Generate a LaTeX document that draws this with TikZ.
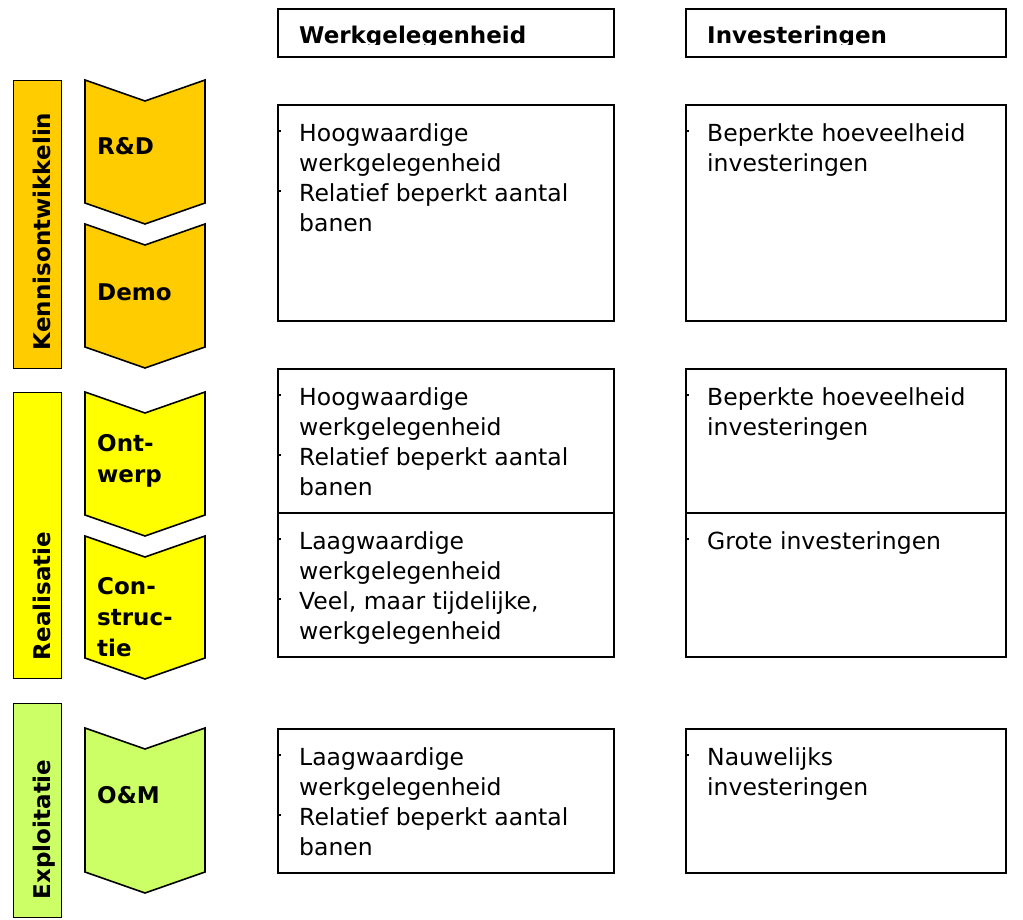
\documentclass[tikz,border=0pt]{standalone}
\usepackage{fontspec}
\setmainfont{DejaVu Sans}
\usetikzlibrary{positioning}
\definecolor{kennisgeel}{HTML}{FFCC00}
\definecolor{realgeel}{HTML}{FFFF00}
\definecolor{explgroen}{HTML}{CCFF66}
\tikzset{
  cel/.style={draw,line width=1.6pt,inner sep=0pt,anchor=north west},
  celtekst/.style={anchor=north west,inner sep=0pt,align=left,font=\fontsize{23.5}{30}\selectfont},
  kop/.style={anchor=base west,inner sep=0pt,font=\bfseries\fontsize{23}{30}\selectfont},
  fasebalk/.style={draw,line width=1.3pt,inner sep=0pt,anchor=north west,minimum width=48pt},
  fasetekst/.style={rotate=90,anchor=base west,inner sep=0pt,font=\bfseries\fontsize{23}{30}\selectfont},
  pijl/.style={draw,line width=1.6pt},
  pijltekst/.style={inner sep=0pt,align=left,font=\bfseries\fontsize{23}{31}\selectfont},
  bolletje/.style={line width=1.3pt},
}
\begin{document}
\begin{tikzpicture}[x=1pt,y=-1pt]
    \useasboundingbox (0,0) rectangle (1023,920);

    % kolomkoppen
    \node[cel,minimum width=336pt,minimum height=48pt] (kopwrk) at (277,8) {};
    \node[cel,minimum width=320pt,minimum height=48pt] (kopinv) at (685,8) {};
    \begin{scope}
        \clip (277,8) rectangle (1005,45);
        \node[kop] (kopwrktekst) at ([xshift=22pt,yshift=-36pt]kopwrk.north west) {Werkgelegenheid};
        \node[kop] (kopinvtekst) at ([xshift=22pt,yshift=-36pt]kopinv.north west) {Investeringen};
    \end{scope}

    % fasebalken
    \node[fasebalk,fill=kennisgeel,minimum height=288pt] (kennis) at (13,80) {};
    \node[fasebalk,fill=realgeel,minimum height=286pt] (realisatie) at (13,392) {};
    \node[fasebalk,fill=explgroen,minimum height=214pt] (exploitatie) at (13,703) {};
    \node[fasetekst] (kennistekst) at ([xshift=-12pt,yshift=19pt]kennis.south east) {Kennisontwikkelin};
    \node[fasetekst] (realisatietekst) at ([xshift=-12pt,yshift=19pt]realisatie.south east) {Realisatie};
    \node[fasetekst] (exploitatietekst) at ([xshift=-12pt,yshift=19pt]exploitatie.south east) {Exploitatie};

    % pijlen
    \foreach \boven/\lengte/\kleur in {80/123/kennisgeel,224/123/kennisgeel,392/123/realgeel,536/122/realgeel,728/144/explgroen}
        \draw[pijl,fill=\kleur] (85,\boven) -- (145,\boven+21) -- (205,\boven) -- (205,\boven+\lengte)
            -- (145,\boven+\lengte+21) -- (85,\boven+\lengte) -- cycle;
    \node[pijltekst,anchor=base west] (rd) at (97,155) {R\&D};
    \node[pijltekst,anchor=base west] (demo) at (97,300) {Demo};
    \node[pijltekst,anchor=north west] (ontwerp) at (97,434.5) {Ont-\\werp};
    \node[pijltekst,anchor=north west] (constructie) at (97,577.5) {Con-\\struc-\\tie};
    \node[pijltekst,anchor=base west] (om) at (97,803) {O\&M};

    % cellen werkgelegenheid
    \node[cel,minimum width=336pt,minimum height=216pt] (wrk1) at (277,104) {};
    \node[cel,minimum width=336pt,minimum height=144pt] (wrk2) at (277,368) {};
    \node[cel,minimum width=336pt,minimum height=144pt] (wrk3) at (277,512) {};
    \node[cel,minimum width=336pt,minimum height=144pt] (wrk4) at (277,728) {};

    % cellen investeringen
    \node[cel,minimum width=320pt,minimum height=216pt] (inv1) at (685,104) {};
    \node[cel,minimum width=320pt,minimum height=144pt] (inv2) at (685,368) {};
    \node[cel,minimum width=320pt,minimum height=144pt] (inv3) at (685,512) {};
    \node[cel,minimum width=320pt,minimum height=144pt] (inv4) at (685,728) {};

    \node[celtekst] (wrk1tekst) at ([xshift=22pt,yshift=-19pt]wrk1.north west) {Hoogwaardige\\werkgelegenheid\\Relatief beperkt aantal\\banen};
    \node[celtekst] (wrk2tekst) at ([xshift=22pt,yshift=-19pt]wrk2.north west) {Hoogwaardige\\werkgelegenheid\\Relatief beperkt aantal\\banen};
    \node[celtekst] (wrk3tekst) at ([xshift=22pt,yshift=-19pt]wrk3.north west) {Laagwaardige\\werkgelegenheid\\Veel, maar tijdelijke,\\werkgelegenheid};
    \node[celtekst] (wrk4tekst) at ([xshift=22pt,yshift=-19pt]wrk4.north west) {Laagwaardige\\werkgelegenheid\\Relatief beperkt aantal\\banen};
    \node[celtekst] (inv1tekst) at ([xshift=22pt,yshift=-19pt]inv1.north west) {Beperkte hoeveelheid\\investeringen};
    \node[celtekst] (inv2tekst) at ([xshift=22pt,yshift=-19pt]inv2.north west) {Beperkte hoeveelheid\\investeringen};
    \node[celtekst] (inv3tekst) at ([xshift=22pt,yshift=-19pt]inv3.north west) {Grote investeringen};
    \node[celtekst] (inv4tekst) at ([xshift=22pt,yshift=-19pt]inv4.north west) {Nauwelijks\\investeringen};

    % opsommingstekens
    \foreach \cel in {wrk1,wrk2,wrk3,wrk4}
        \draw[bolletje] ([yshift=-27pt]\cel.north west) -- ++(4,0) ([yshift=-87pt]\cel.north west) -- ++(4,0);
    \foreach \cel in {inv1,inv2,inv3,inv4}
        \draw[bolletje] ([yshift=-27pt]\cel.north west) -- ++(4,0);

\end{tikzpicture}
\end{document}
